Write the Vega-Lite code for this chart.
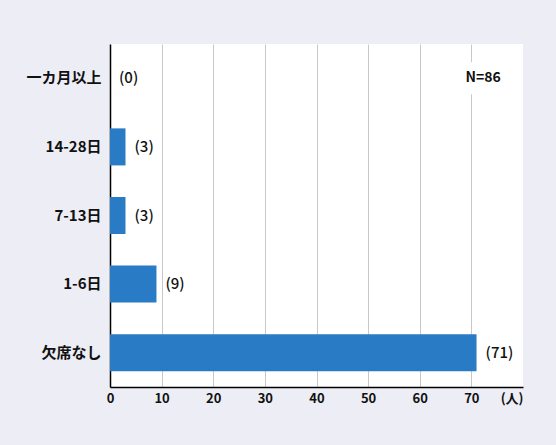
{
  "$schema": "https://vega.github.io/schema/vega-lite/v6.json",
  "width": 413,
  "height": 343,
  "autosize": {"type": "none"},
  "padding": {"left": 110, "top": 44, "right": 33, "bottom": 58},
  "background": "#ecedf5",
  "config": {
    "view": {"fill": "white", "stroke": null},
    "font": "Noto Sans CJK JP"
  },
  "data": {
    "values": [
      {"days": "一カ月以上", "count": 0, "label": "(0)"},
      {"days": "14-28日", "count": 3, "label": "(3)"},
      {"days": "7-13日", "count": 3, "label": "(3)"},
      {"days": "1-6日", "count": 9, "label": "(9)"},
      {"days": "欠席なし", "count": 71, "label": "(71)"}
    ]
  },
  "encoding": {
    "y": {
      "field": "days",
      "type": "nominal",
      "sort": null,
      "title": null,
      "scale": {
        "domain": ["一カ月以上", "14-28日", "7-13日", "1-6日", "欠席なし"],
        "paddingInner": 0.46,
        "paddingOuter": 0.23
      },
      "axis": {
        "domainColor": "#000000",
        "domainWidth": 1.5,
        "ticks": false,
        "labelPadding": 9,
        "labelFontSize": 15,
        "labelFontWeight": "bold",
        "labelColor": "#111111"
      }
    }
  },
  "layer": [
    {
      "mark": {"type": "bar", "color": "#2a7bc6"},
      "encoding": {
        "x": {
          "field": "count",
          "type": "quantitative",
          "title": null,
          "scale": {"domain": [0, 80], "nice": false},
          "axis": {
            "values": [0, 10, 20, 30, 40, 50, 60, 70, 80],
            "grid": true,
            "gridColor": {"condition": {"test": "datum.value == 80", "value": "transparent"}, "value": "#c8c8c8"},
            "domainColor": "#000000",
            "domainWidth": 1.5,
            "ticks": false,
            "labelFlush": false,
            "labelPadding": 5,
            "labelFontSize": 13,
            "labelFontWeight": "bold",
            "labelColor": "#111111",
            "labelAlign": {"condition": {"test": "datum.value == 80", "value": "right"}, "value": "center"},
            "labelExpr": "datum.value == 80 ? '(人)' : datum.label"
          }
        }
      }
    },
    {
      "mark": {"type": "text", "align": "left", "baseline": "middle", "dx": 9, "fontSize": 15, "fontWeight": 500, "color": "#111111"},
      "encoding": {
        "x": {"field": "count", "type": "quantitative"},
        "text": {"field": "label"}
      }
    },
    {
      "data": {"values": [{"days": "一カ月以上", "from": 65.5, "to": 79, "mid": 72.3, "note": "N=86"}]},
      "layer": [
        {
          "mark": {"type": "bar", "color": "white", "height": 32},
          "encoding": {
            "x": {"field": "from", "type": "quantitative"},
            "x2": {"field": "to"}
          }
        },
        {
          "mark": {"type": "text", "align": "center", "baseline": "middle", "fontSize": 14, "fontWeight": "bold", "color": "#111111"},
          "encoding": {
            "x": {"field": "mid", "type": "quantitative"},
            "text": {"field": "note"}
          }
        }
      ]
    }
  ]
}
